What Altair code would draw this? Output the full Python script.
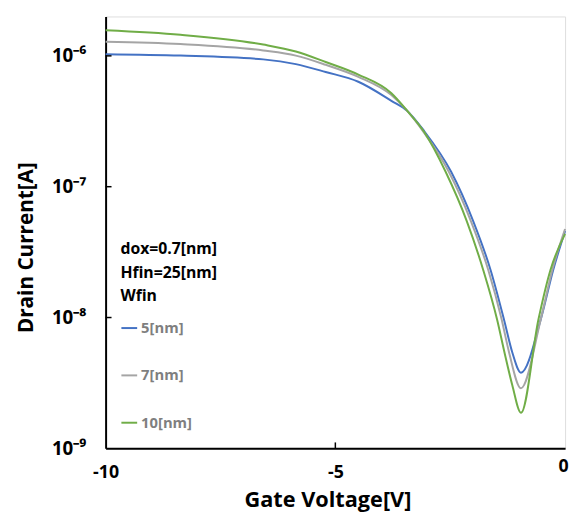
import altair as alt
import pandas as pd

# ---- data ----
series_names = ["5[nm]", "7[nm]", "10[nm]"]
series_colors = ["#4472C4", "#A5A5A5", "#70AD47"]

v_5nm = [-10, -8.37, -6.57, -5.86, -5.21, -4.50, -3.78, -3.43, -3.07, -2.48, -2.00, -1.62, -1.33, -1.15, -0.96, -0.53, -0.26, 0]
i_5nm = [1.030e-6, 1.005e-6, 9.40e-7, 8.65e-7, 7.53e-7, 6.34e-7, 4.53e-7, 3.78e-7, 2.67e-7, 1.30e-7, 5.46e-8,
         2.30e-8, 9.66e-9, 5.43e-9, 3.79e-9, 9.66e-9, 2.30e-8, 4.59e-8]

v_7nm = [-10, -8.37, -6.57, -5.86, -5.21, -4.50, -3.78, -3.43, -3.07, -2.53, -2.05, -1.67, -1.38, -1.22, -0.96, -0.53, -0.28, 0]
i_7nm = [1.28e-6, 1.23e-6, 1.10e-6, 1.005e-6, 8.55e-7, 6.92e-7, 5.02e-7, 3.78e-7, 2.59e-7, 1.30e-7, 5.46e-8,
         2.30e-8, 9.66e-9, 5.43e-9, 2.88e-9, 9.66e-9, 2.30e-8, 4.75e-8]

v_10nm = [-10, -8.37, -6.57, -5.86, -5.21, -4.50, -3.78, -3.43, -3.07, -2.60, -2.14, -1.78, -1.48, -1.32, -1.15, -0.96, -0.58, -0.32, 0]
i_10nm = [1.57e-6, 1.45e-6, 1.22e-6, 1.08e-6, 8.97e-7, 7.19e-7, 5.18e-7, 3.78e-7, 2.63e-7, 1.30e-7, 5.46e-8,
          2.30e-8, 9.66e-9, 5.43e-9, 3.05e-9, 1.87e-9, 9.66e-9, 2.30e-8, 4.36e-8]

x_ticks = [-10, -5, 0]
y_ticks = [1e-9, 1e-8, 1e-7, 1e-6]
legend_title = ["dox=0.7[nm]", "Hfin=25[nm]", "Wfin"]

rows = []
for name, vs, cs in zip(series_names, [v_5nm, v_7nm, v_10nm], [i_5nm, i_7nm, i_10nm]):
    for v, c in zip(vs, cs):
        rows.append({"Wfin": name, "V": v, "I": c})
df = pd.DataFrame(rows)

FONT = "Open Sans"
W, H = 466, 438

xscale = alt.Scale(domain=[-10, 0], nice=False, zero=False)
yscale = alt.Scale(type="log", domain=[1e-9, 2e-6], nice=False)

lines = alt.Chart(df).mark_line(strokeWidth=2, interpolate="monotone").encode(
    x=alt.X("V:Q", scale=xscale, axis=alt.Axis(
        values=x_ticks, title="Gate Voltage[V]", labelFlush=False, tickSize=0,
        labelExpr="'' + datum.value",
        labelFontSize=18, labelFontWeight="bold", labelFont=FONT, labelColor="black",
        labelPadding={"condition": {"test": "datum.value == 0", "value": 9}, "value": 16},
        labelOffset={"condition": {"test": "datum.value == 0", "value": -2}, "value": 0},
        titleFontSize=22, titleFontWeight="bold", titleFont=FONT, titleColor="black",
        titleX=225, titleY=52, titleBaseline="middle",
        domainColor="black", domainWidth=2, grid=False)),
    y=alt.Y("I:Q", scale=yscale, axis=alt.Axis(
        values=y_ticks, title="Drain Current[A]", tickSize=0,
        labelExpr="datum.value >= 9e-7 ? '10⁻⁶' : datum.value >= 9e-8 ? '10⁻⁷' : datum.value >= 9e-9 ? '10⁻⁸' : '10⁻⁹'",
        labelFontSize=19, labelFontWeight="bold", labelFont=FONT, labelColor="black", labelPadding=20,
        titleFontSize=21, titleFontWeight="bold", titleFont=FONT, titleColor="black",
        titleX=-80, titleY=234, titleBaseline="middle", titleAngle=-90,
        domainColor="black", domainWidth=2, grid=False)),
    color=alt.Color("Wfin:N", sort=series_names,
                    scale=alt.Scale(domain=series_names, range=series_colors),
                    legend=alt.Legend(
                        orient="none", legendX=15, legendY=228, padding=0,
                        title=legend_title, titleFont=FONT, titleFontSize=16, titleFontWeight="bold",
                        titleColor="black", titleLineHeight=24, titlePadding=15,
                        labelFont=FONT, labelFontSize=15, labelFontWeight="bold", labelColor="#7f7f7f",
                        labelOffset=3, symbolType="stroke", symbolSize=256, symbolStrokeWidth=2,
                        rowPadding=31)),
)

ytick_df = pd.DataFrame({"I": [1e-6, 1e-7, 1e-8]})
xtick_df = pd.DataFrame({"V": [-5]})

ytick_marks = alt.Chart(ytick_df).mark_rule(color="black", strokeWidth=1.5).encode(
    y=alt.Y("I:Q", scale=yscale), x=alt.value(0), x2=alt.value(6))
xtick_marks = alt.Chart(xtick_df).mark_rule(color="black", strokeWidth=1.5).encode(
    x=alt.X("V:Q", scale=xscale), y=alt.value(H), y2=alt.value(H - 6))

chart = alt.layer(lines, ytick_marks, xtick_marks).properties(
    width=W, height=H,
    autosize=alt.AutoSizeParams(type="none"),
    padding={"left": 99, "top": 5, "right": 6, "bottom": 65},
).configure_view(stroke="black", strokeWidth=2).configure(background="white")

chart.save("out.html", embed_options={"renderer": "svg", "actions": False})
